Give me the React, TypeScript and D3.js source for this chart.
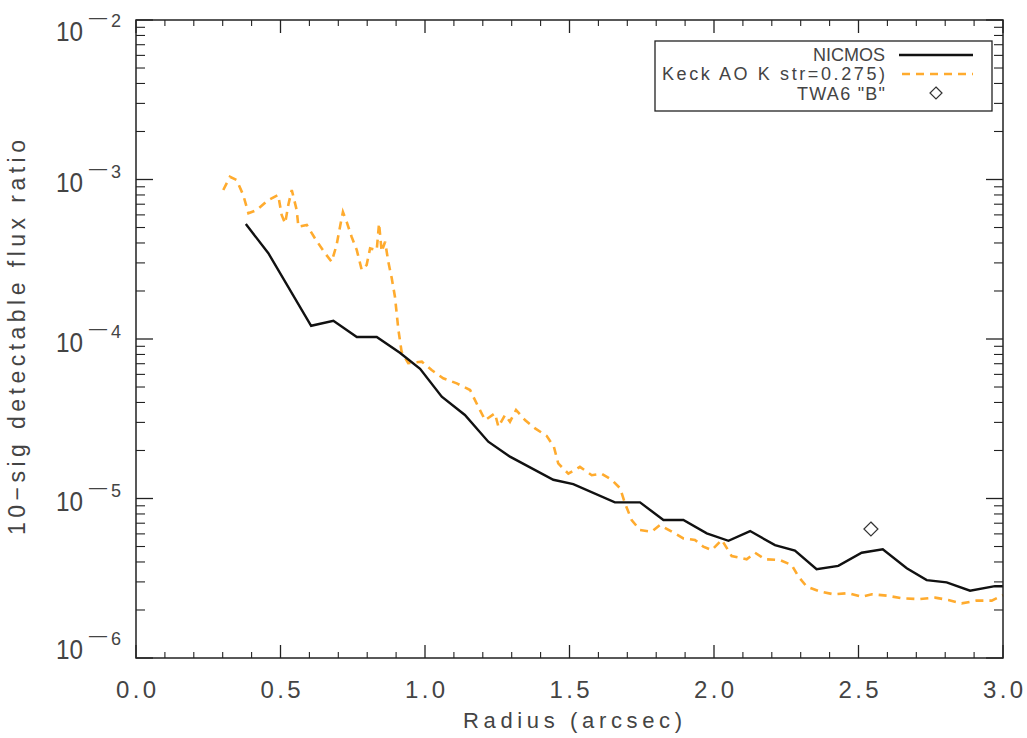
import React from "react";
import * as d3 from "d3";

const nicmosX = [0.380,0.458,0.606,0.683,0.764,0.833,0.913,0.983,1.058,1.138,1.219,1.294,1.444,1.513,1.657,1.744,1.825,1.894,1.975,2.050,2.125,2.211,2.280,2.355,2.430,2.511,2.584,2.667,2.736,2.805,2.886,2.972,3.0];
const nicmosY = [5.26e-4,3.45e-4,1.21e-4,1.30e-4,1.03e-4,1.03e-4,8.2e-5,6.5e-5,4.35e-5,3.34e-5,2.27e-5,1.83e-5,1.31e-5,1.23e-5,9.46e-6,9.46e-6,7.33e-6,7.33e-6,6.05e-6,5.43e-6,6.25e-6,5.10e-6,4.71e-6,3.60e-6,3.78e-6,4.57e-6,4.80e-6,3.65e-6,3.08e-6,2.98e-6,2.64e-6,2.82e-6,2.82e-6];

const keckX = [0.302,0.325,0.348,0.371,0.389,0.418,0.458,0.492,0.504,0.516,0.527,0.539,0.556,0.562,0.591,0.619,0.654,0.677,0.694,0.706,0.716,0.729,0.746,0.764,0.781,0.798,0.810,0.833,0.841,0.850,0.862,0.873,0.885,0.896,0.908,0.919,0.942,0.989,1.023,1.063,1.110,1.156,1.184,1.208,1.242,1.254,1.277,1.294,1.315,1.346,1.381,1.421,1.446,1.461,1.496,1.536,1.577,1.611,1.646,1.675,1.692,1.715,1.744,1.784,1.813,1.854,1.894,1.934,1.963,1.992,2.027,2.061,2.113,2.142,2.176,2.228,2.269,2.292,2.321,2.367,2.413,2.465,2.511,2.546,2.598,2.649,2.713,2.765,2.811,2.857,2.909,2.961,3.0];
const keckY = [8.59e-4,1.04e-3,9.93e-4,8.0e-4,6.14e-4,6.44e-4,7.44e-4,8.0e-4,5.99e-4,5.31e-4,6.92e-4,8.59e-4,6.44e-4,5.06e-4,5.19e-4,4.28e-4,3.45e-4,3.05e-4,3.88e-4,5.06e-4,6.25e-4,5.42e-4,4.38e-4,3.61e-4,2.71e-4,2.91e-4,3.70e-4,3.61e-4,5.31e-4,3.53e-4,4.07e-4,3.05e-4,2.40e-4,1.84e-4,1.14e-4,8.32e-5,7.05e-5,7.21e-5,6.39e-5,5.67e-5,5.27e-5,4.79e-5,3.77e-5,3.10e-5,3.42e-5,2.82e-5,3.34e-5,3.03e-5,3.59e-5,3.10e-5,2.75e-5,2.47e-5,2.11e-5,1.66e-5,1.43e-5,1.58e-5,1.40e-5,1.43e-5,1.31e-5,1.16e-5,9.33e-6,7.33e-6,6.34e-6,6.19e-6,6.82e-6,6.19e-6,5.62e-6,5.50e-6,4.99e-6,4.75e-6,5.50e-6,4.36e-6,4.16e-6,4.57e-6,4.16e-6,4.11e-6,3.83e-6,3.24e-6,2.80e-6,2.61e-6,2.51e-6,2.55e-6,2.42e-6,2.51e-6,2.46e-6,2.37e-6,2.34e-6,2.39e-6,2.31e-6,2.20e-6,2.29e-6,2.29e-6,2.48e-6];

const twaX = [2.543];
const twaY = [6.44e-6];

const xTicks = [0.0, 0.5, 1.0, 1.5, 2.0, 2.5, 3.0];
const xTickLabels = ["0.0", "0.5", "1.0", "1.5", "2.0", "2.5", "3.0"];
const yExponents = [-2, -3, -4, -5, -6];
const legendLabels = ["NICMOS", "Keck AO K str=0.275)", "TWA6 \"B\""];

const W = 1027, H = 738;
const L = 136, R = 1003, T = 20, B = 658;
const FONT = "'Liberation Sans', 'DejaVu Sans', sans-serif";
const TXT = "#444";
const ORANGE = "#ffab2e";

// vertical shift of y tick labels (IDL keeps the end labels inside the axis)
const yLabelShift: Record<number, number> = { [-2]: 11, [-3]: 2.5, [-4]: 2.5, [-5]: 2.5, [-6]: -9 };
const legendWidths = [72, 223, 88];

export default function App() {
  const x = d3.scaleLinear().domain([0, 3]).range([L, R]);
  const y = d3.scaleLog().domain([1e-6, 1e-2]).range([B, T]);

  const line = d3.line<[number, number]>().x(d => x(d[0])).y(d => y(d[1]));
  const nic = nicmosX.map((v, i) => [v, nicmosY[i]] as [number, number]);
  const keck = keckX.map((v, i) => [v, keckY[i]] as [number, number]);

  const xMinor = d3.range(0, 3.0001, 0.1).map(v => +v.toFixed(2)).filter(v => !xTicks.some(t => Math.abs(t - v) < 1e-6));
  const yMinor: number[] = [];
  for (let e = -6; e < -2; e++) for (let m = 2; m <= 9; m++) yMinor.push(m * Math.pow(10, e));

  const xMaj = 13, xMin = 6, yMaj = 17, yMin = 9;
  const diamond = (cx: number, cy: number, r: number) => `M${cx},${cy - r}L${cx + r},${cy}L${cx},${cy + r}L${cx - r},${cy}Z`;

  return (
    <svg width={W} height={H} style={{ position: "absolute", left: 0, top: 0, background: "#fff" }}>
      <rect x={0} y={0} width={W} height={H} fill="#fff" />
      {/* data */}
      <path d={line(keck) || ""} fill="none" stroke={ORANGE} strokeWidth={2.6} strokeDasharray="8,6" />
      <path d={line(nic) || ""} fill="none" stroke="#111" strokeWidth={2.4} />
      {twaX.map((v, i) => (
        <path key={i} d={diamond(x(v), y(twaY[i]), 7)} fill="none" stroke="#333" strokeWidth={1.2} />
      ))}
      {/* frame */}
      <rect x={L} y={T} width={R - L} height={B - T} fill="none" stroke="#222" strokeWidth={1.5} />
      {/* x ticks */}
      {xTicks.map(v => (
        <g key={"xt" + v} stroke="#222" strokeWidth={1.3}>
          <line x1={x(v)} x2={x(v)} y1={B} y2={B - xMaj} />
          <line x1={x(v)} x2={x(v)} y1={T} y2={T + xMaj} />
        </g>
      ))}
      {xMinor.map(v => (
        <g key={"xm" + v} stroke="#222" strokeWidth={1.1}>
          <line x1={x(v)} x2={x(v)} y1={B} y2={B - xMin} />
          <line x1={x(v)} x2={x(v)} y1={T} y2={T + xMin} />
        </g>
      ))}
      {/* y ticks */}
      {yExponents.map(e => (
        <g key={"yt" + e} stroke="#222" strokeWidth={1.3}>
          <line x1={L} x2={L + yMaj} y1={y(Math.pow(10, e))} y2={y(Math.pow(10, e))} />
          <line x1={R} x2={R - yMaj} y1={y(Math.pow(10, e))} y2={y(Math.pow(10, e))} />
        </g>
      ))}
      {yMinor.map((v, i) => (
        <g key={"ym" + i} stroke="#222" strokeWidth={1.1}>
          <line x1={L} x2={L + yMin} y1={y(v)} y2={y(v)} />
          <line x1={R} x2={R - yMin} y1={y(v)} y2={y(v)} />
        </g>
      ))}
      {/* x labels */}
      {xTicks.map((v, i) => (
        <text key={"xl" + v} x={x(v) - 20} y={698} textLength={40} lengthAdjust="spacing" fontFamily={FONT} fontSize={24} fill={TXT}>{xTickLabels[i]}</text>
      ))}
      <text x={463} y={728} textLength={219} lengthAdjust="spacing" fontFamily={FONT} fontSize={22} fill={TXT}>Radius (arcsec)</text>
      {/* y labels */}
      {yExponents.map(e => {
        const c = y(Math.pow(10, e)) + yLabelShift[e];
        return (
          <g key={"yl" + e} fontFamily={FONT} fill={TXT}>
            <text x={56} y={c + 10} textLength={27} lengthAdjust="spacingAndGlyphs" fontSize={27}>10</text>
            <text x={89} y={c - 8} textLength={18} lengthAdjust="spacingAndGlyphs" fontSize={18}>{"\u2014"}</text>
            <text x={111} y={c - 4} fontSize={18}>{String(Math.abs(e))}</text>
          </g>
        );
      })}
      <text transform={`translate(25,535) rotate(-90)`} textLength={395} lengthAdjust="spacing" fontFamily={FONT} fontSize={23} fill={TXT}>10−sig detectable flux ratio</text>
      {/* legend */}
      <rect x={655} y={41} width={337} height={70} fill="#fff" stroke="#222" strokeWidth={1.3} />
      {legendLabels.map((lab, i) => (
        <text key={"lg" + i} x={885 - legendWidths[i]} y={61 + i * 19.3} textLength={legendWidths[i]} lengthAdjust="spacing" fontFamily={FONT} fontSize={18} fill={TXT}>{lab}</text>
      ))}
      <line x1={899} x2={973} y1={55} y2={55} stroke="#111" strokeWidth={2.4} />
      <line x1={899} x2={973} y1={74} y2={74} stroke={ORANGE} strokeWidth={2.6} strokeDasharray="8,6" strokeDashoffset={-3} />
      <path d={diamond(936, 93, 6)} fill="none" stroke="#333" strokeWidth={1.2} />
    </svg>
  );
}
